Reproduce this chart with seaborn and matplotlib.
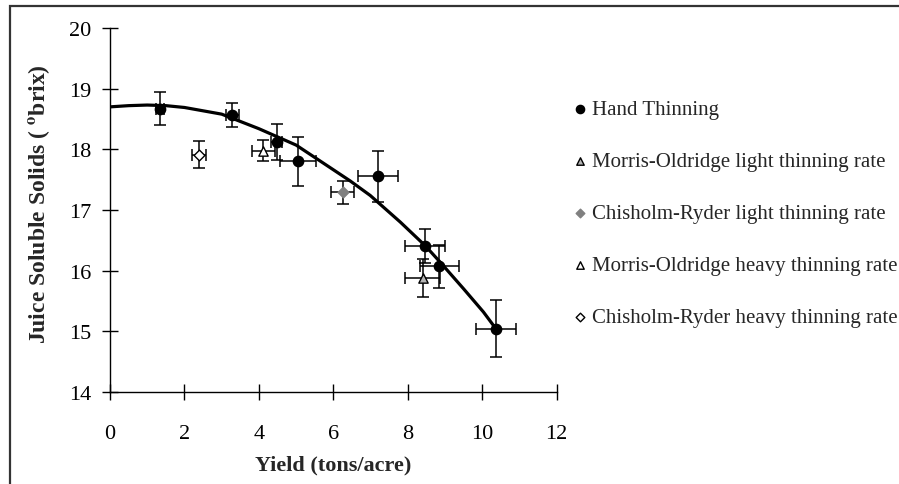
import numpy as np
import pandas as pd
import matplotlib
matplotlib.use('Agg')
import matplotlib.pyplot as plt
from matplotlib.patches import Rectangle
import seaborn as sns

# -------------------------------
# data
# -------------------------------
hand_x = [1.34, 3.29, 4.48, 5.05, 7.19, 8.47, 8.85, 10.37]
hand_y = [18.67, 18.56, 18.12, 17.80, 17.56, 16.40, 16.07, 15.04]
hand_xerr = [0.10, 0.17, 0.15, 0.48, 0.54, 0.54, 0.52, 0.55]
hand_yerr = [0.27, 0.20, 0.29, 0.40, 0.42, 0.28, 0.36, 0.47]

mo_light_x, mo_light_y = [8.40], [15.88]
mo_light_xerr, mo_light_yerr = [0.47], [0.31]

cr_light_x, cr_light_y = [6.25], [17.29]
cr_light_xerr, cr_light_yerr = [0.30], [0.19]

mo_heavy_x, mo_heavy_y = [4.12], [17.98]
mo_heavy_xerr, mo_heavy_yerr = [0.30], [0.17]

cr_heavy_x, cr_heavy_y = [2.40], [17.91]
cr_heavy_xerr, cr_heavy_yerr = [0.19], [0.22]

# trend line, read at several points along the drawn curve
trend_x = [0, 0.5, 1, 1.5, 2, 3, 4, 5, 5.91, 6.45, 6.99, 7.8, 8.47, 8.87, 9.5, 10.03, 10.37]
trend_y = [18.70, 18.72, 18.73, 18.72, 18.69, 18.58, 18.34, 18.07, 17.70, 17.48, 17.24,
           16.80, 16.41, 16.14, 15.70, 15.32, 15.04]

x_ticks = [0, 2, 4, 6, 8, 10, 12]
y_ticks = [14, 15, 16, 17, 18, 19, 20]

groups = [
    # label, x, y, xerr, yerr, marker, face, edge
    ('Hand Thinning', hand_x, hand_y, hand_xerr, hand_yerr, 'o', 'black', 'black'),
    ('Morris-Oldridge light thinning rate', mo_light_x, mo_light_y, mo_light_xerr, mo_light_yerr, '^', '#b4b4b4', 'black'),
    ('Chisholm-Ryder light thinning rate', cr_light_x, cr_light_y, cr_light_xerr, cr_light_yerr, 'D', '#808080', '#808080'),
    ('Morris-Oldridge heavy thinning rate', mo_heavy_x, mo_heavy_y, mo_heavy_xerr, mo_heavy_yerr, '^', 'white', 'black'),
    ('Chisholm-Ryder heavy thinning rate', cr_heavy_x, cr_heavy_y, cr_heavy_xerr, cr_heavy_yerr, 'D', 'white', 'black'),
]

# -------------------------------
# style
# -------------------------------
sns.set_style('white')
plt.rcParams['font.family'] = ['Liberation Serif', 'DejaVu Serif']
plt.rcParams['mathtext.fontset'] = 'stix'

fig = plt.figure(figsize=(8.99, 4.85), dpi=100)
ax = fig.add_axes([110 / 899, 1 - 393 / 485, 446.7 / 899, 364 / 485])

# error bars first, markers on top
for label, x, y, xe, ye, m, fc, ec in groups:
    ax.errorbar(x, y, xerr=xe, yerr=ye, fmt='none', ecolor='black',
                elinewidth=1.1, capsize=4.5, capthick=1.1, zorder=2)

trend = pd.DataFrame({'x': trend_x, 'y': trend_y})
sns.lineplot(data=trend, x='x', y='y', ax=ax, color='black', linewidth=2.3,
             legend=False, zorder=3, sort=False)

for label, x, y, xe, ye, m, fc, ec in groups:
    df = pd.DataFrame({'x': x, 'y': y})
    size = 55 if m == 'o' else 45
    if m == 'D':
        size = 30
    sns.scatterplot(data=df, x='x', y='y', ax=ax, marker=m, s=size,
                    color=fc, edgecolor=ec, linewidth=1.0, label=label, zorder=4)

ax.set_xlim(0, 12)
ax.set_ylim(14, 20)
ax.set_xticks(x_ticks)
ax.set_yticks(y_ticks)
ax.tick_params(axis='both', bottom=True, left=True, direction='inout', length=11.5,
               width=1, color='black', labelsize=16, labelcolor='black')
ax.tick_params(axis='x', pad=17)
ax.tick_params(axis='y', pad=8)
for side in ['top', 'right']:
    ax.spines[side].set_visible(False)
for side in ['left', 'bottom']:
    ax.spines[side].set_color('black')
    ax.spines[side].set_linewidth(1)

ax.set_xlabel('Yield (tons/acre)', fontsize=16, fontweight='bold')
ax.set_ylabel(r'Juice Soluble Solids ( $^{\mathbf{o}}$brix)', fontsize=17, fontweight='bold')
ax.xaxis.set_label_coords(0.5, -0.172)
ax.yaxis.set_label_coords(-0.13, 0.519)

leg = ax.legend(loc='upper left', bbox_to_anchor=(573.5 / 899, 1 - 100.5 / 485),
                bbox_transform=fig.transFigure, frameon=False, fontsize=15,
                borderpad=0, borderaxespad=0, handlelength=0.6, handletextpad=0.3,
                labelspacing=1.56, markerscale=0.8)

# outer frame like the original figure border
fig.patches.append(Rectangle((10 / 899, -0.1), 1.2, 1.1 - 7 / 485, transform=fig.transFigure,
                             fill=False, edgecolor='#333333', linewidth=1.6))

fig.savefig('out.png', dpi=100)
